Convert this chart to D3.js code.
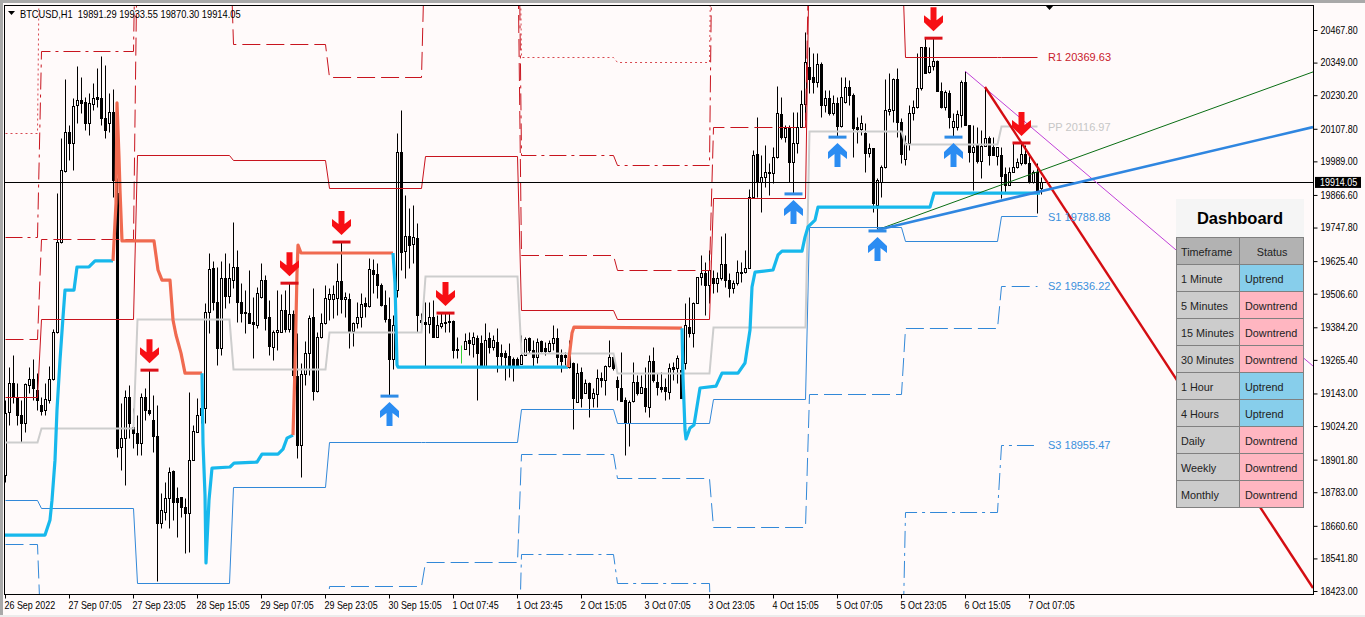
<!DOCTYPE html>
<html><head><meta charset="utf-8">
<script src="https://cdn.jsdelivr.net/npm/d3@7"></script>
<style>
html,body{margin:0;padding:0;background:#fffafa;overflow:hidden}
svg{display:block}
text{font-family:"Liberation Sans",sans-serif}
</style></head><body>
<div id="chart"></div>
<script>
// ---- candles (one value per hourly bar, USD)
const opens=[
18846,19075,19181,19130,19064,19035,19174,19195,19155,19101,19083,19119,19195,19367,19695,19954,20096,20056,20194,20212,
20205,20129,20198,20223,20220,20147,20129,20169,19874,18948,18980,19130,19021,18999,18962,19130,19083,19046,18988,18671,
18711,18762,18860,18762,18765,18729,18707,18900,19002,19064,19090,19440,19600,19476,19309,19564,19498,19556,19604,19476,
19440,19436,19403,19392,19494,19556,19421,19312,19367,19367,19447,19378,19432,19206,18955,19214,19290,19421,19152,19349,
19400,19487,19487,19491,19553,19487,19487,19370,19400,19421,19473,19462,19593,19578,19538,19465,19414,19268,19520,20023,
19662,19717,19688,19710,19411,19403,19396,19421,19349,19389,19400,19403,19407,19305,19298,19305,19338,19323,19345,19327,
19243,19345,19312,19330,19290,19290,19279,19268,19268,19250,19283,19345,19301,19276,19334,19309,19298,19327,19345,19283,
19283,19239,19254,19112,19221,19145,19181,19126,19141,19199,19192,19243,19276,19192,19163,19119,19035,19115,19185,19145,
19163,19094,19261,19185,19166,19166,19148,19239,19236,19228,19254,19385,19363,19473,19567,19582,19538,19564,19545,19564,
19615,19556,19527,19545,19582,19586,19600,19859,20016,19914,19932,19950,19946,20005,20161,20078,20114,19987,20056,20114,
20198,20333,20296,20278,20344,20194,20220,20165,20202,20118,20205,20260,20231,20114,20107,20092,20019,20038,19830,19914,
19968,20172,20176,20289,20132,19997,20056,20165,20187,20256,20406,20315,20336,20355,20245,20187,20238,20114,20114,20158,
20278,20121,20023,20048,19990,20045,20074,20041,20008,20012,19943,19903,19950,19968,19983,20016,19983,19914,19950,19891.29];
const highs=[
19119,19239,19283,19181,19119,19181,19239,19268,19217,19130,19181,19243,19378,19874,20074,20289,20121,20220,20336,20296,
20223,20238,20274,20329,20373,20340,20238,20253,19928,19108,19155,19174,19090,19064,19145,19163,19228,19137,19101,18780,
18820,18875,18864,18802,18765,18762,19148,19028,19126,19145,19473,19655,19626,19604,19626,19655,19618,19768,19666,19545,
19520,19593,19494,19531,19618,19575,19483,19374,19520,19505,19520,19545,19447,19363,19254,19334,19429,19527,19367,19436,
19538,19527,19538,19618,19695,19513,19509,19403,19476,19509,19494,19637,19633,19618,19545,19520,19494,19429,20092,20176,
19866,19819,19830,19764,19436,19476,19476,19483,19429,19436,19436,19436,19411,19349,19319,19363,19367,19367,19356,19356,
19400,19367,19356,19381,19323,19301,19327,19276,19276,19356,19349,19349,19338,19345,19338,19330,19338,19392,19381,19305,
19294,19338,19257,19254,19239,19195,19185,19163,19232,19221,19247,19338,19276,19206,19294,19130,19119,19257,19210,19210,
19239,19283,19312,19217,19221,19199,19254,19257,19283,19294,19473,19494,19476,19567,19648,19622,19666,19593,19586,19717,
19728,19582,19556,19629,19622,19666,19888,20030,20151,20012,20048,19983,20041,20264,20223,20121,20121,20169,20169,20249,
20460,20406,20384,20384,20351,20249,20249,20231,20223,20296,20296,20285,20238,20151,20158,20129,20056,20038,19928,19976,
20289,20311,20293,20329,20147,20085,20194,20212,20384,20406,20438,20406,20438,20358,20278,20249,20249,20165,20176,20285,
20318,20121,20121,20114,20103,20260,20081,20078,20041,20041,19968,19968,20056,20001,20056,20048,20019,19957,19983,19933.55];
const lows=[
18820,19028,19108,19028,18966,19002,19145,19119,19083,19064,19064,19108,19192,19363,19691,19950,19994,19957,20129,20165,
20103,20085,20176,20187,20121,20074,20096,19859,18911,18864,18809,18980,18944,18918,18918,19046,19064,18929,18459,18652,
18682,18652,18682,18620,18693,18561,18565,18900,19002,19035,19035,19363,19447,19247,19283,19454,19473,19527,19403,19403,
19363,19400,19272,19381,19491,19374,19283,19265,19301,19367,19367,19367,19199,18907,18838,19174,19210,19119,19148,19345,
19396,19411,19418,19429,19436,19421,19309,19316,19381,19385,19421,19458,19509,19491,19462,19403,19137,19232,19494,19593,
19564,19600,19618,19367,19367,19243,19363,19349,19349,19381,19367,19367,19272,19272,19254,19305,19283,19276,19119,19243,
19243,19290,19301,19221,19239,19192,19203,19188,19243,19250,19283,19290,19243,19254,19294,19283,19294,19301,19247,19221,
19247,19236,19013,19112,19094,19145,19057,19094,19094,19166,19137,19239,19228,19119,19115,18918,18951,19112,19137,19145,
19075,19057,19185,19137,19148,19119,19123,19192,19181,19126,19232,19349,19312,19473,19538,19429,19473,19509,19513,19556,
19531,19494,19509,19538,19549,19582,19600,19859,19859,19804,19895,19866,19910,20001,20070,20059,19914,19874,20019,20114,
20140,20238,20238,20260,20151,20169,20158,20158,20081,20114,20202,20194,20005,20056,20085,19950,20005,19804,19739,19859,
19965,20158,20132,20078,19983,19976,20030,20140,20183,20249,20311,20311,20322,20245,20183,20176,20110,20081,20103,20114,
20121,19987,19884,19983,19928,20045,19976,20012,19976,19855,19874,19903,19950,19965,19976,19979,19910,19910,19801,19870.30];
const closes=[
19072,19181,19130,19064,19035,19177,19195,19163,19119,19079,19123,19195,19367,19695,19957,20096,20056,20191,20212,20202,
20129,20202,20220,20216,20147,20103,20169,19921,18944,18980,19130,19035,18999,18962,19130,19083,19072,18988,18671,18718,
18762,18857,18747,18747,18729,18707,18900,19006,19064,19090,19440,19597,19476,19309,19564,19498,19564,19604,19476,19436,
19436,19400,19396,19509,19556,19418,19316,19367,19374,19447,19378,19432,19210,18955,19214,19290,19418,19152,19349,19400,
19491,19505,19505,19553,19487,19494,19370,19400,19421,19469,19462,19597,19578,19538,19465,19414,19268,19392,20023,19658,
19717,19684,19713,19429,19403,19396,19421,19349,19392,19400,19403,19407,19301,19301,19301,19334,19327,19349,19290,19243,
19338,19312,19338,19279,19279,19276,19243,19243,19243,19283,19341,19301,19276,19330,19298,19298,19327,19345,19276,19261,
19276,19279,19126,19217,19126,19181,19126,19145,19199,19192,19243,19276,19236,19166,19115,19035,19112,19185,19145,19166,
19097,19261,19192,19166,19159,19152,19236,19232,19272,19126,19392,19363,19473,19567,19582,19538,19593,19545,19564,19615,
19556,19527,19545,19586,19586,19600,19859,20012,19914,19932,19950,19946,20005,20165,20078,20110,19987,20056,20114,20198,
20351,20289,20278,20344,20194,20220,20165,20202,20118,20223,20260,20231,20110,20107,20129,20019,20038,19837,19921,19968,
20176,20180,20289,20132,20016,20056,20165,20187,20256,20406,20311,20336,20355,20245,20187,20242,20151,20136,20161,20278,
20121,20023,20041,19990,20045,20074,20012,20012,20041,19935,19903,19950,19968,19987,20016,19983,19914,19950,19881,19914.05];
const greenBars=[114];

// ---- axes
const priceTicks=[20467.80,20349.00,20230.20,20107.80,19989.00,19866.60,19747.80,19625.40,19506.60,19384.20,19265.40,19143.00,19024.20,18901.80,18783.00,18660.60,18541.80,18423.00];
const timeLabels=["26 Sep 2022","27 Sep 07:05","27 Sep 23:05","28 Sep 15:05","29 Sep 07:05","29 Sep 23:05","30 Sep 15:05","1 Oct 07:45","1 Oct 23:45","2 Oct 15:05","3 Oct 07:05","3 Oct 23:05","4 Oct 15:05","5 Oct 07:05","5 Oct 23:05","6 Oct 15:05","7 Oct 07:05"];
const barsPerLabel=16;
const headerText="BTCUSD,H1  19891.29 19933.55 19870.30 19914.05";
const lastPrice=19914.05;

// ---- daily pivot levels (values far outside the window are off-chart estimates)
const dayStartBars=[0,9,33,57,81,105,129,153,177,201,225,249];
const lastPivotBar=258;
const R1=[19130,19414,20012,19994,19892,20008,19447,19414,19855,20800,20369.63,20369.63];
const R2=[19341,19706,20869,20417,20296,20869,19647,19593,20114,20869,20869,20869];
const R3=[19713,20391,21300,21300,21300,21300,20012,19976,21300,21300,21300,21300];
const R4=[20092,21500,21500,21500,21500,21500,20369,20351,21500,21500,21500,21500];
const PP=[18966,19017,19414,19232,19367,19571,19290,19217,19385,20100,20052,20116.97];
const S1=[18754,18725,18452,18802,18966,18966,19086,19035,19123,19750,19699,19788.88];
const S2=[18594,18208,18025,18208,18441,18529,18922,18835,18656,19141,19381,19536.22];
const S3=[18000,18000,18000,18000,18000,18000,18558,18452,18000,18000,18711,18955.47];
const pivotLabels=[["R1 20369.63",20369.63,"r"],["PP 20116.97",20116.97,"p"],["S1 19788.88",19788.88,"s"],["S2 19536.22",19536.22,"s"],["S3 18955.47",18955.47,"s"]];

// ---- thick trend-following band: bar position, price, and colour state of the run ending at the point
const bandBars=[0,10,11.25,11.75,12.5,13,13.75,14.5,15,17.25,18,21,22.5,27,
 27.75,28,28.5,28.75,29.25,37.25,38.25,39.25,41.25,42,42.75,44,45,49.25,
 49.5,50,50.25,51,51.75,56.25,57.25,63,64.25,68.25,69.5,70.5,72,
 72.5,73,73.25,74,97,
 97.5,98,98.25,140.75,
 141.75,142.25,169.25,
 169.5,170,170.25,171.25,172.25,173.75,177.75,179.25,183.25,185,186.25,186.75,187.5,192,193.25,194.25,199.25,200,200.75,202.5,203.25,231.25,232.25,258.75];
const bandPrices=[18627,18627,18682,18754,18900,19083,19265,19421,19520,19520,19604,19604,19626,19626,
 19837,20202,20005,19884,19699,19699,19593,19556,19556,19411,19356,19290,19217,19217,
 18962,18773,18525,18754,18871,18875,18889,18893,18922,18922,18940,18980,18991,
 19239,19582,19684,19655,19655,
 19545,19247,19239,19239,
 19363,19385,19381,
 19203,19010,18977,19017,19028,19163,19170,19217,19217,19254,19374,19531,19585,19593,19648,19662,19662,19713,19750,19775,19822,19822,19873,19873];
const bandRuns=[["up",14],["down",14],["up",13],["down",5],["up",4],["down",3],["up",24]];

// ---- drawn trend lines [bar, price, bar, price]
const purpleLine=[240,20318,327,19243];
const redLine=[245,20260,327,18434];
const greenLine=[218,19739,327,20315];
const blueLine=[218,19739,327,20114];

// ---- signal arrows
const sellSignals=[36,71,84,110,232,254];
const buySignals=[96,197,208,218,237];

// ---- dashboard
const dashTitle="Dashboard";
const dashHeader=["Timeframe","Status"];
const timeframes=["1 Minute","5 Minutes","15 Minutes","30 Minutes","1 Hour","4 Hours","Daily","Weekly","Monthly"];
const statuses=["Uptrend","Downtrend","Downtrend","Downtrend","Uptrend","Uptrend","Downtrend","Downtrend","Downtrend"];

// ==================================================================
const W=1365,H=617,plot={l:4,t:5,r:1313,b:594};
const x=d3.scaleLinear().domain([0,260]).range([5,1045]);
const y=d3.scaleLinear().domain([18423,20467.8]).range([591,30]);
const px=v=>Math.round(x(v))+.5, py=v=>Math.round(y(v))+.5;
const svg=d3.select("#chart").append("svg").attr("width",W).attr("height",H);
svg.append("rect").attr("width",W).attr("height",H).attr("fill","#fffafa");
svg.append("rect").attr("width",W).attr("height",3).attr("fill","#a9a9a9");
svg.append("rect").attr("width",3).attr("height",H).attr("fill","#a9a9a9");
svg.append("rect").attr("y",615).attr("width",W).attr("height",2).attr("fill","#ececec");
svg.append("defs").append("clipPath").attr("id","plot").append("rect")
 .attr("x",plot.l).attr("y",plot.t).attr("width",plot.r-plot.l).attr("height",plot.b-plot.t);
const g=svg.append("g").attr("clip-path","url(#plot)");

// squeeze a text horizontally (the terminal's face is narrower than the installed ones)
function squeeze(sel,f){sel.each(function(){const n=this.getComputedTextLength();
  d3.select(this).attr("textLength",n*f).attr("lengthAdjust","spacingAndGlyphs");});}

// candles
const idx=d3.range(opens.length);
const gc=g.append("g");
gc.selectAll("line").data(idx).join("line")
 .attr("x1",px).attr("x2",px)
 .attr("y1",i=>py(highs[i])).attr("y2",i=>py(lows[i]))
 .attr("stroke",i=>greenBars.includes(i)?"#3ad13a":"#000").attr("stroke-width",1);
gc.selectAll("rect").data(idx.filter(i=>!greenBars.includes(i))).join("rect")
 .attr("x",i=>px(i)-1).attr("width",2)
 .attr("y",i=>py(Math.max(opens[i],closes[i])))
 .attr("height",i=>Math.max(1,py(Math.min(opens[i],closes[i]))-py(Math.max(opens[i],closes[i]))))
 .attr("fill",i=>closes[i]>=opens[i]?"#fffafa":"#000").attr("stroke","#000").attr("stroke-width",1);

// pivots
const RED="#c8141e",BLUE="#3288d8",GREY="#cdcdcd";
function pivot(level,color,w,dash){
  const pts=[];
  level.forEach((v,k)=>{const end=k+1<dayStartBars.length?dayStartBars[k+1]-1:lastPivotBar;pts.push([dayStartBars[k],v],[end,v]);});
  g.append("path").attr("d",d3.line().x(d=>x(d[0])+.5).y(d=>py(d[1]))(pts))
   .attr("fill","none").attr("stroke",color).attr("stroke-width",w).attr("stroke-dasharray",dash);
}
pivot(R4,"#d84850",1,"2 3");
pivot(R3,RED,1,"17 5 3 5");
pivot(R2,RED,1,"18 6");
pivot(R1,RED,1,null);
pivot(S3,BLUE,1,"17 5 3 5");
pivot(S2,BLUE,1,"18 6");
pivot(S1,BLUE,1,null);
pivot(PP,GREY,2,null);

// band
const bandLine=d3.line().x(d=>x(d[0])).y(d=>y(d[1])).curve(d3.curveLinear);
let start=0;
bandRuns.forEach(([state,n])=>{
  const from=Math.max(0,start-1);
  const pts=d3.range(from,start+n).map(k=>[bandBars[k],bandPrices[k]]);
  g.append("path").attr("d",bandLine(pts)).attr("fill","none")
   .attr("stroke",state==="up"?"#17b8ec":"#f06a50").attr("stroke-width",3.2).attr("stroke-linejoin","round");
  start+=n;
});

// current price line
g.append("line").attr("x1",plot.l).attr("x2",plot.r).attr("y1",py(lastPrice)).attr("y2",py(lastPrice)).attr("stroke","#000");

// trend lines
function tl(c,color,w){g.append("line").attr("x1",x(c[0])).attr("y1",y(c[1])).attr("x2",x(c[2])).attr("y2",y(c[3])).attr("stroke",color).attr("stroke-width",w);}
tl(purpleLine,"#c040d8",1);
tl(greenLine,"#0a6e14",1);
tl(redLine,"#d40d12",2.4);
tl(blueLine,"#2f86e0",2.6);

// signals
const arrow=d3.line()([[-3,0],[3,0],[3,13],[9.5,8],[9.5,15],[0,24],[-9.5,15],[-9.5,8],[-3,13]])+"Z";
const sg=g.append("g");
sg.selectAll("g.s").data(sellSignals).join("g").attr("class","s")
 .attr("transform",i=>`translate(${px(i)},${y(highs[i])})`)
 .each(function(){const s=d3.select(this);
   s.append("rect").attr("x",-9).attr("y",-1.5).attr("width",18).attr("height",3).attr("fill","#dc1018");
   s.append("path").attr("d",arrow).attr("transform","translate(0,-31)").attr("fill","#f70f14");});
sg.selectAll("g.b").data(buySignals).join("g").attr("class","b")
 .attr("transform",i=>`translate(${px(i)},${y(lows[i])})`)
 .each(function(){const s=d3.select(this);
   s.append("rect").attr("x",-9).attr("y",-.5).attr("width",18).attr("height",3).attr("fill","#2f8be6");
   s.append("path").attr("d",arrow).attr("transform","translate(0,31) scale(1,-1)").attr("fill","#2b8cf2");});

// pivot labels
const lblColor={r:"#c8202c",p:"#c6c6c6",s:"#3a90dc"};
g.selectAll("text.lv").data(pivotLabels).join("text").attr("class","lv")
 .attr("x",x(260.75)).attr("y",d=>y(d[1])+.5).attr("dy","0.35em")
 .attr("font-size",11).attr("fill",d=>lblColor[d[2]]).text(d=>d[0]);

// frame
svg.append("rect").attr("x",plot.l+.5).attr("y",plot.t+.5).attr("width",plot.r-plot.l).attr("height",plot.b-plot.t)
 .attr("fill","none").attr("stroke","#000");
svg.append("path").attr("d","M1045,5H1054L1049.5,10Z").attr("fill","#000");

// axes
const TICK_FONT=10.5,TICK_SQUEEZE=0.85;
const fmt=d3.format(".2f");
const ay=svg.append("g").attr("transform",`translate(${plot.r+.5},0)`)
 .call(d3.axisRight(y).tickValues(priceTicks).tickSize(4).tickPadding(3).tickFormat(fmt));
ay.select(".domain").remove();
ay.selectAll("text").attr("font-size",TICK_FONT).attr("font-family",null).attr("fill","#000").call(squeeze,TICK_SQUEEZE);
const ax=svg.append("g").attr("transform",`translate(0,${plot.b+.5})`)
 .call(d3.axisBottom(x).tickValues(timeLabels.map((_,k)=>k*barsPerLabel)).tickSize(4).tickPadding(3).tickFormat((_,k)=>timeLabels[k]));
ax.select(".domain").remove();
ax.selectAll("text").attr("font-size",TICK_FONT).attr("font-family",null).attr("text-anchor","start").attr("dx",-1).attr("fill","#000").call(squeeze,TICK_SQUEEZE);

// last price box
svg.append("rect").attr("x",1315).attr("y",y(lastPrice)-5).attr("width",46).attr("height",11).attr("fill","#000");
svg.append("text").attr("x",1320).attr("y",y(lastPrice)+.5).attr("dy","0.35em").attr("font-size",TICK_FONT).attr("fill","#fff").text(fmt(lastPrice)).call(squeeze,TICK_SQUEEZE);

// header
svg.append("path").attr("d","M8,11H15L11.5,15Z").attr("fill","#000");
svg.append("text").attr("x",20).attr("y",14).attr("dy","0.35em").attr("font-size",TICK_FONT).attr("fill","#000")
 .style("white-space","pre").text(headerText).call(squeeze,0.885);

// dashboard
const dash=svg.append("g");
const col=[1176.5,1239.5,1303.5],rowTop=237.5,rowH=27;
dash.append("rect").attr("x",1176).attr("y",199).attr("width",128).attr("height",38).attr("fill","#f5f5f5");
dash.append("text").attr("x",1240).attr("y",218.5).attr("dy","0.35em").attr("text-anchor","middle")
 .attr("font-size",16.5).attr("font-weight","bold").attr("fill","#000").text(dashTitle);
const rows=[dashHeader].concat(timeframes.map((t,i)=>[t,statuses[i]]));
rows.forEach((r,i)=>{
  const yy=rowTop+i*rowH;
  const head=i===0;
  dash.append("rect").attr("x",col[0]).attr("y",yy).attr("width",col[1]-col[0]).attr("height",rowH)
    .attr("fill",head?"#b2b2b2":"#cccccc").attr("stroke","#808080");
  dash.append("rect").attr("x",col[1]).attr("y",yy).attr("width",col[2]-col[1]).attr("height",rowH)
    .attr("fill",head?"#b2b2b2":r[1]==="Uptrend"?"#87ceeb":"#ffb6c1").attr("stroke","#808080");
  dash.append("text").attr("x",1181).attr("y",yy+14.5).attr("dy","0.35em").attr("font-size",11.5).attr("fill","#222").text(r[0]).call(squeeze,0.94);
  dash.append("text").attr("x",head?1272:1245).attr("y",yy+14.5).attr("dy","0.35em").attr("text-anchor",head?"middle":"start")
    .attr("font-size",11.5).attr("fill","#222").text(r[1]).call(squeeze,0.94);
});
</script>
</body></html>
